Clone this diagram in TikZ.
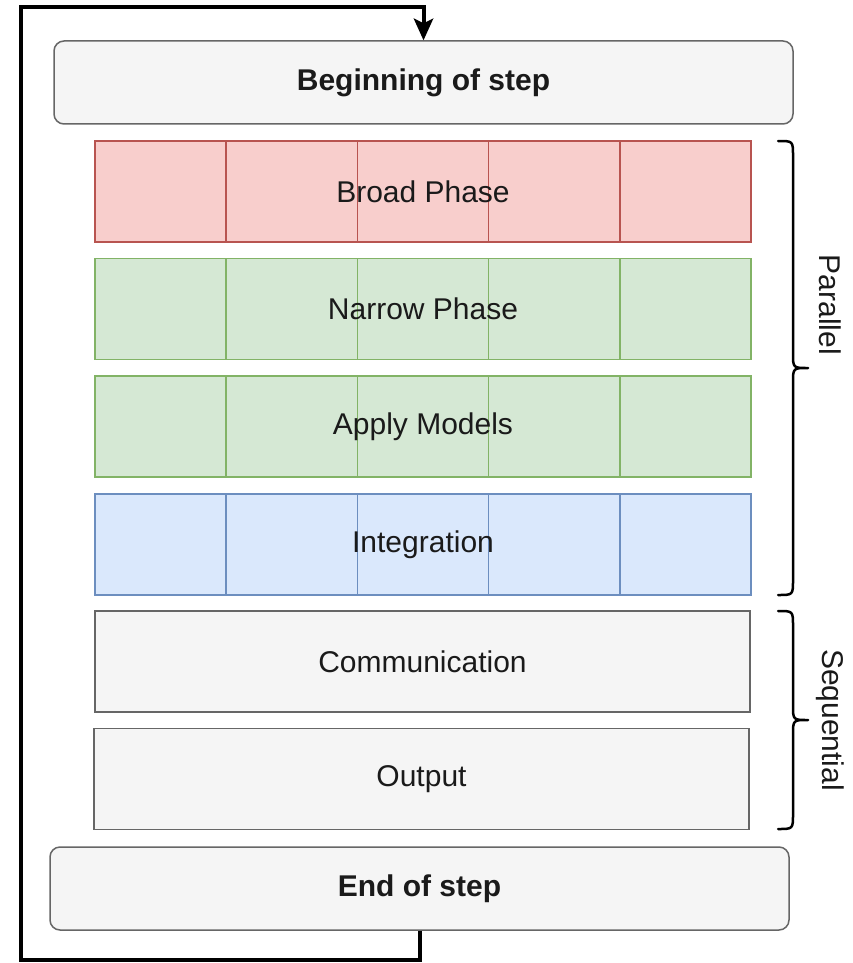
\documentclass[tikz,border=0pt]{standalone}
\usepackage{fontspec}
\setmainfont{Liberation Sans}
\usetikzlibrary{arrows.meta}
\definecolor{redfill}{HTML}{F8CECC}
\definecolor{redline}{HTML}{B85450}
\definecolor{greenfill}{HTML}{D5E8D4}
\definecolor{greenline}{HTML}{82B366}
\definecolor{bluefill}{HTML}{DAE8FC}
\definecolor{blueline}{HTML}{6C8EBF}
\definecolor{grayfill}{HTML}{F5F5F5}
\definecolor{grayline}{HTML}{666666}
\definecolor{txt}{HTML}{1A1A1A}
\tikzset{
  stepbox/.style={draw=grayline, fill=grayfill, line width=1.5pt, rounded corners=10pt,
    minimum width=739pt, minimum height=83pt, inner sep=0pt,
    font=\fontsize{30}{36}\selectfont\bfseries, text=txt},
  cell/.style={line width=1.5pt, minimum width=131.2pt, minimum height=101pt, inner sep=0pt},
  redcell/.style={cell, draw=redline, fill=redfill},
  greencell/.style={cell, draw=greenline, fill=greenfill},
  bluecell/.style={cell, draw=blueline, fill=bluefill},
  rowtext/.style={font=\fontsize{30}{36}\selectfont, text=txt, inner sep=0pt},
  seqbox/.style={draw=grayline, fill=grayfill, line width=1.5pt, minimum width=655pt,
    minimum height=101pt, inner sep=0pt, font=\fontsize{30}{36}\selectfont, text=txt},
  loopline/.style={line width=4pt, draw=black},
  bracepath/.style={line width=2.5pt, draw=black, line cap=round, line join=round},
  bracetext/.style={font=\fontsize{30}{36}\selectfont, text=txt, rotate=-90, inner sep=0pt},
}
\begin{document}
\begin{tikzpicture}[x=1pt,y=-1pt]
\useasboundingbox (0,0) rectangle (852,963);
% top and bottom boxes
\node[stepbox] (begin) at (423.5,82.5) {Beginning of step};
\node[stepbox] (end) at (419.5,888.5) {End of step};
% parallel rows
\foreach \i/\x in {1/160.6,2/291.8,3/423,4/554.2,5/685.4}{
  \node[redcell] (br\i) at (\x,191.5) {};
  \node[greencell] (nr\i) at (\x,309) {};
  \node[greencell] (am\i) at (\x,426.5) {};
  \node[bluecell] (in\i) at (\x,544.5) {};
}
\node[rowtext] (broad) at (423,191.5) {Broad Phase};
\node[rowtext] (narrow) at (423,309) {Narrow Phase};
\node[rowtext] (apply) at (423,426.5) {Apply Models};
\node[rowtext] (integ) at (423,544.5) {Integration};
% sequential rows
\node[seqbox] (comm) at (422.5,661.5) {Communication};
\node[seqbox] (out) at (421.5,779) {Output};
% loop connector
\coordinate (lowturn) at (21,960);
\coordinate (topturn) at (21,7);
\draw[loopline, -{Stealth[length=22pt,width=20pt,inset=5pt,line width=0pt]}]
  (end.south) |- (lowturn) -- (topturn) -| (begin.north);
% braces
\draw[bracepath] (778,141) .. controls (793,141) .. (793,156) -- (793,353)
  .. controls (793,368) .. (808,368) .. controls (793,368) .. (793,383)
  -- (793,580) .. controls (793,595) .. (778,595);
\draw[bracepath] (778,611) .. controls (793,611) .. (793,626) -- (793,705)
  .. controls (793,720) .. (808,720) .. controls (793,720) .. (793,735)
  -- (793,814) .. controls (793,829) .. (778,829);
\node[bracetext] (par) at (830,305) {Parallel};
\node[bracetext] (seq) at (830,720) {Sequential};
\end{tikzpicture}
\end{document}
